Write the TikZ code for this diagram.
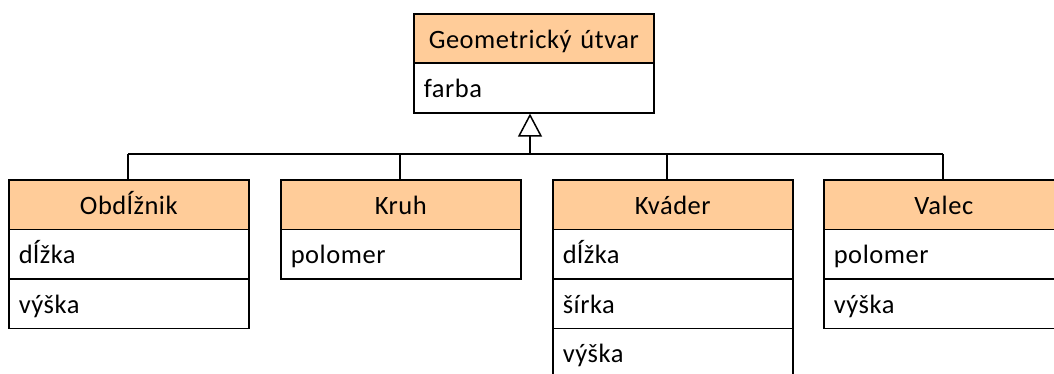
\documentclass[tikz,border=0pt]{standalone}
\usepackage{fontspec}
\setmainfont{Carlito}[LetterSpace=2]
\usetikzlibrary{arrows.meta}
\definecolor{hdr}{HTML}{FFCC99}
\tikzset{
  boxline/.style={draw=black, line width=1.6pt},
  hdrbox/.style={boxline, fill=hdr, anchor=north west, minimum width=240pt, minimum height=49.5pt,
     text width=220pt, inner xsep=10pt, inner ysep=0pt, align=center, text height=19pt, text depth=0pt, font=\fontsize{26.5}{30}\selectfont},
  attrbox/.style={boxline, fill=white, anchor=north west, minimum width=240pt, minimum height=49.5pt,
     text width=220pt, inner xsep=10pt, inner ysep=0pt, align=left, text height=19pt, text depth=0pt, font=\fontsize{26.5}{30}\selectfont},
  conn/.style={draw=black, line width=1.5pt},
}
\begin{document}
\begin{tikzpicture}[x=1pt,y=-1pt]
\useasboundingbox (0,0) rectangle (1054,374);
% top class
\node[hdrbox] (g) at (413,13) {Geometrický útvar};
\node[attrbox] (g1) at (413,62.5) {farba};
% Obdlznik
\node[hdrbox] (o) at (8,179) {Obdĺžnik};
\node[attrbox] (o1) at (8,228.5) {dĺžka};
\node[attrbox] (o2) at (8,278) {výška};
% Kruh
\node[hdrbox] (k) at (280,179) {Kruh};
\node[attrbox] (k1) at (280,228.5) {polomer};
% Kvader
\node[hdrbox] (q) at (552,179) {Kváder};
\node[attrbox] (q1) at (552,228.5) {dĺžka};
\node[attrbox] (q2) at (552,278) {šírka};
\node[attrbox] (q3) at (552,327.5) {výška};
% Valec
\node[hdrbox] (v) at (823,179) {Valec};
\node[attrbox] (v1) at (823,228.5) {polomer};
\node[attrbox] (v2) at (823,278) {výška};
% connectors
\coordinate (j) at (530,154);
\coordinate (jo) at (128,154);
\coordinate (jk) at (400,154);
\coordinate (jq) at (667,154);
\coordinate (jv) at (943,154);
\draw[conn] (jo) -- (jv);
\draw[conn] (jo) -- (jo |- o.north);
\draw[conn] (jk) -- (jk |- k.north);
\draw[conn] (jq) -- (jq |- q.north);
\draw[conn] (jv) -- (jv |- v.north);
\draw[conn, -{Triangle[open, length=23pt, width=24pt, line width=1.5pt]}] (j) -- (j |- g1.south);
\end{tikzpicture}
\end{document}
